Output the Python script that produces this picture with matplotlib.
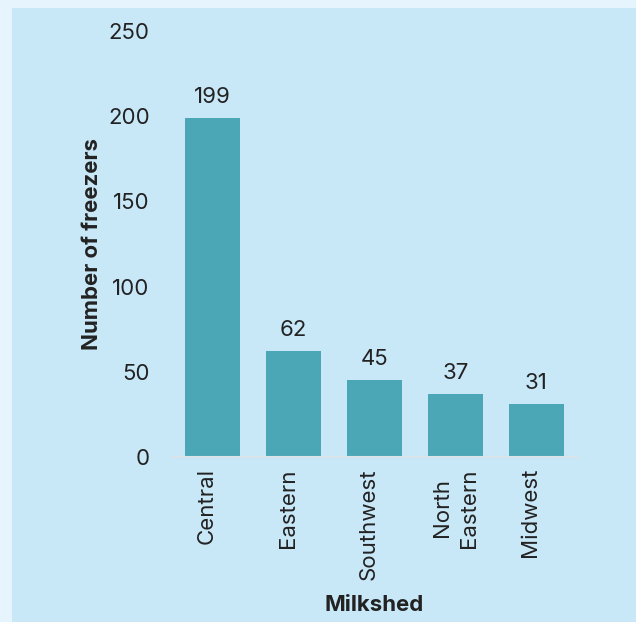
import matplotlib.pyplot as plt
from matplotlib.patches import Rectangle

regions = ['Central', 'Eastern', 'Southwest', 'North\nEastern', 'Midwest']
freezers = [199, 62, 45, 37, 31]
yticks = [0, 50, 100, 150, 200, 250]

plt.rcParams['font.family'] = ['Inter', 'DejaVu Sans']
text_col = '#222222'

fig = plt.figure(figsize=(6.36, 6.22), dpi=100)
fig.patch.set_facecolor('#e6f5fd')

# inner panel
panel = Rectangle((12 / 636, 0), 1, (622 - 8) / 622, transform=fig.transFigure,
                  facecolor='#c8e7f7', edgecolor='none', zorder=-1)
fig.add_artist(panel)

ax = fig.add_axes([172 / 636, 165 / 622, 405 / 636, 426 / 622])
ax.set_facecolor('none')

x = range(len(regions))
bars = ax.bar(x, freezers, width=0.68, color='#4ba6b5', zorder=2)
for b, v in zip(bars, freezers):
    ax.annotate(str(v), (b.get_x() + b.get_width() / 2, v), xytext=(0, 8),
                textcoords='offset points', ha='center', va='bottom',
                fontsize=16, color=text_col)

ax.set_xlim(-0.5, 4.5)
ax.set_ylim(0, 250)
ax.set_yticks(yticks)
ax.set_xticks(list(x))
ax.set_xticklabels(regions, rotation=90)
for lbl in ax.get_xticklabels():
    lbl.set_rotation_mode('anchor')
    lbl.set_ha('right')
    lbl.set_multialignment('center')
    lbl.set_linespacing(1.4)
    lbl.set_va('center' if '\n' in lbl.get_text() else 'baseline')
ax.tick_params(axis='both', length=0, labelsize=16, colors=text_col)
ax.tick_params(axis='x', pad=8)
ax.tick_params(axis='y', pad=16)

for s in ['left', 'right', 'top']:
    ax.spines[s].set_visible(False)
ax.spines['bottom'].set_color('#d8e4ea')
ax.spines['bottom'].set_linewidth(1.5)

ax.set_xlabel('Milkshed', fontsize=16, fontweight='bold', color=text_col, labelpad=11)
ax.set_ylabel('Number of freezers', fontsize=16, fontweight='bold', color=text_col, labelpad=4)

fig.savefig('out.png', dpi=100, facecolor=fig.get_facecolor())
